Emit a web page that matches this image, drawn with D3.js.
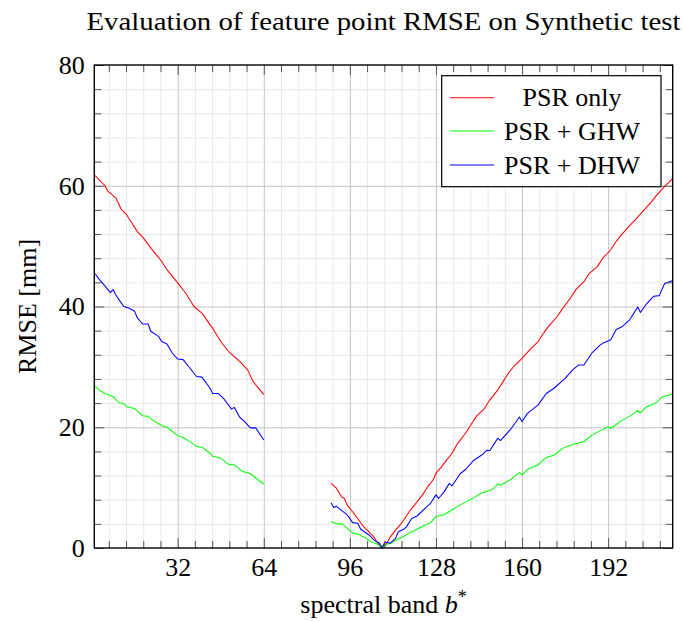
<!DOCTYPE html>
<html><head><meta charset="utf-8">
<script src="https://cdn.jsdelivr.net/npm/d3@7"></script>
<style>body{margin:0;background:#fff}svg{display:block}</style>
</head><body><svg id="c" width="684" height="621"></svg>
<script>
// ---- data (band, RMSE mm) ----
const seriesNames = ["PSR only", "PSR + GHW", "PSR + DHW"];
const seriesColors = ["#ff0000", "#00ff00", "#0000ff"];

const psrOnlyA = [[1,61.8],[5,60.0],[6,59.1],[9,58.0],[11,56.1],[13,55.2],[15,53.8],[17,52.4],[19,51.5],[22,49.7],[24,48.6],[26,47.5],[28,46.1],[32,43.9],[35,42.2],[37,40.8],[38,40.0],[41,38.9],[44,37.0],[45,36.4],[48,34.2],[51,32.5],[55,30.9],[58,29.5],[60,27.6],[64,25.4]];
const psrOnlyB = [[89,10.7],[91,9.9],[93,8.4],[94,8.2],[95,7.1],[97,6.0],[99,4.8],[101,3.6],[103,2.7],[105,1.8],[106,1.0],[108,0.0],[110,1.0],[111,1.8],[113,3.0],[115,4.0],[116,4.6],[118,6.0],[120,7.1],[123,8.8],[125,10.2],[127,11.3],[128,12.4],[130,13.4],[132,14.6],[134,15.7],[136,17.3],[139,19.0],[141,20.4],[143,21.8],[146,23.1],[148,24.5],[151,26.2],[153,27.6],[155,29.0],[157,30.1],[160,31.4],[163,32.9],[166,34.2],[168,35.6],[170,36.8],[173,38.3],[175,39.6],[178,41.4],[180,42.8],[183,44.1],[185,45.5],[188,46.6],[190,48.0],[193,49.4],[195,50.8],[197,51.9],[200,53.4],[202,54.3],[204,55.3],[206,56.3],[208,57.3],[210,58.4],[213,59.9],[216,61.2]];

const psrGhwA = [[1,26.9],[3,26.1],[6,25.4],[8,25.1],[10,24.1],[12,23.9],[13,23.4],[16,23.1],[19,21.9],[21,21.8],[23,21.1],[26,20.3],[28,20.0],[32,18.6],[34,18.3],[37,17.5],[39,16.8],[41,16.7],[44,15.7],[45,15.2],[48,14.9],[51,13.8],[53,13.8],[56,12.7],[59,12.3],[61,11.6],[64,10.6]];
const psrGhwB = [[89,4.4],[91,4.0],[93,4.0],[95,3.3],[97,2.5],[99,2.3],[102,1.6],[104,1.0],[106,0.7],[108,0.0],[110,0.7],[111,0.7],[113,1.3],[116,1.9],[118,2.5],[121,3.1],[123,3.6],[126,4.2],[128,5.2],[131,5.5],[134,6.3],[136,6.9],[139,7.6],[142,8.3],[145,9.1],[149,9.7],[151,10.6],[152,10.4],[156,11.4],[159,12.5],[160,12.1],[162,13.0],[166,13.8],[169,15.0],[172,15.4],[175,16.5],[179,17.2],[183,17.6],[186,18.7],[189,19.4],[192,20.1],[193,19.8],[197,21.1],[200,21.8],[203,22.8],[204,22.4],[206,23.3],[210,24.1],[212,25.0],[216,25.5]];

const psrDhwA = [[1,45.6],[3,44.4],[4,43.9],[7,42.3],[8,42.8],[9,41.9],[11,40.6],[12,40.0],[14,39.7],[16,39.2],[17,38.1],[19,37.1],[21,37.1],[22,35.9],[25,35.0],[26,34.2],[28,33.8],[30,32.3],[32,31.3],[34,31.2],[36,30.1],[39,28.4],[41,28.3],[44,26.5],[45,25.6],[47,25.6],[49,24.8],[52,23.0],[53,23.3],[55,21.7],[57,20.9],[59,19.9],[61,19.9],[64,17.9]];
const psrDhwB = [[89,7.5],[90,6.7],[91,6.9],[93,6.2],[95,5.5],[97,4.2],[99,4.1],[100,3.1],[103,2.2],[105,1.3],[107,0.8],[108,0.0],[109,1.0],[111,0.8],[113,1.6],[114,2.7],[116,3.1],[117,3.5],[119,4.9],[121,5.3],[124,6.6],[126,7.4],[128,8.8],[129,8.2],[131,9.3],[133,10.7],[134,10.3],[137,12.3],[139,13.0],[142,14.5],[145,15.4],[147,16.2],[148,16.1],[151,18.2],[152,17.8],[156,19.8],[159,21.7],[160,20.9],[162,22.3],[166,23.7],[169,25.6],[172,26.5],[176,28.1],[179,29.6],[181,30.3],[183,30.3],[186,32.3],[189,33.6],[190,33.9],[193,34.5],[195,36.2],[197,36.6],[200,37.8],[203,39.9],[204,39.0],[206,40.3],[209,41.7],[211,41.8],[213,43.8],[216,44.3]];

const xTickValues = [32, 64, 96, 128, 160, 192];
const yTickValues = [0, 20, 40, 60, 80];
const xDomain = [1, 216];
const yDomain = [0, 80];
const titleText = "Evaluation of feature point RMSE on Synthetic test";
const yLabelText = "RMSE [mm]";

// ---- layout ----
const L = 94.3, R = 672.7, T = 65, B = 548;
const FONT = "'Liberation Serif', 'Times New Roman', serif";
const svg = d3.select("#c");
const x = d3.scaleLinear().domain(xDomain).range([L, R]);
const y = d3.scaleLinear().domain(yDomain).range([B, T]);

const xMinor = d3.range(1, 34).map(k => +(k * 6.4).toFixed(1)).filter(v => !xTickValues.includes(v) && v <= xDomain[1]);
const yMinor = d3.range(1, 20).map(k => k * 4).filter(v => !yTickValues.includes(v));

// grids
const gGrid = svg.append("g");
function vgrid(vals, color) {
  gGrid.append("g").attr("transform", `translate(0,${B})`)
    .call(d3.axisBottom(x).tickValues(vals).tickSize(-(B - T)).tickFormat(""))
    .call(g => g.select(".domain").remove())
    .call(g => g.selectAll("line").attr("stroke", color).attr("stroke-width", 1));
}
function hgrid(vals, color) {
  gGrid.append("g").attr("transform", `translate(${L},0)`)
    .call(d3.axisLeft(y).tickValues(vals).tickSize(-(R - L)).tickFormat(""))
    .call(g => g.select(".domain").remove())
    .call(g => g.selectAll("line").attr("stroke", color).attr("stroke-width", 1));
}
vgrid(xMinor, "#e9e9e9"); hgrid(yMinor, "#e9e9e9");
vgrid(xTickValues, "#c4c4c4"); hgrid(yTickValues.filter(v => v > 0 && v < 80), "#c4c4c4");

// data lines
const line = d3.line().x(d => x(d[0])).y(d => y(d[1]));
const segs = [[psrOnlyA, psrOnlyB], [psrGhwA, psrGhwB], [psrDhwA, psrDhwB]];
const gData = svg.append("g");
segs.forEach((pair, i) => pair.forEach(seg => {
  gData.append("path").datum(seg).attr("d", line).attr("fill", "none")
    .attr("stroke", seriesColors[i]).attr("stroke-width", 1.05).attr("stroke-linejoin", "round");
}));

// ticks (inward on all four sides)
const tickColor = "#555";
function ticks(axisFn, scale, vals, len, tr) {
  svg.append("g").attr("transform", tr)
    .call(axisFn(scale).tickValues(vals).tickSize(len).tickFormat(""))
    .call(g => g.select(".domain").remove())
    .call(g => g.selectAll("line").attr("stroke", tickColor).attr("stroke-width", 1));
}
ticks(d3.axisBottom, x, xMinor, -7, `translate(0,${B})`);
ticks(d3.axisBottom, x, xTickValues, -10, `translate(0,${B})`);
ticks(d3.axisTop, x, xMinor, -7, `translate(0,${T})`);
ticks(d3.axisTop, x, xTickValues, -10, `translate(0,${T})`);
ticks(d3.axisLeft, y, yMinor, -7, `translate(${L},0)`);
ticks(d3.axisLeft, y, yTickValues, -10, `translate(${L},0)`);
ticks(d3.axisRight, y, yMinor, -7, `translate(${R},0)`);
ticks(d3.axisRight, y, yTickValues, -10, `translate(${R},0)`);

// frame
svg.append("rect").attr("x", L).attr("y", T).attr("width", R - L).attr("height", B - T)
  .attr("fill", "none").attr("stroke", "#000").attr("stroke-width", 1.4);

// tick labels
svg.append("g").attr("transform", `translate(0,${B})`)
  .call(d3.axisBottom(x).tickValues(xTickValues).tickSize(0).tickPadding(10).tickFormat(d3.format("d")))
  .call(g => g.select(".domain").remove())
  .call(g => g.selectAll("text").attr("font-family", FONT).attr("font-size", 26).attr("fill", "#000"));
svg.append("g").attr("transform", `translate(${L},0)`)
  .call(d3.axisLeft(y).tickValues(yTickValues).tickSize(0).tickPadding(9.5).tickFormat(d3.format("d")))
  .call(g => g.select(".domain").remove())
  .call(g => g.selectAll("text").attr("font-family", FONT).attr("font-size", 26).attr("fill", "#000"));

// title
svg.append("text").attr("x", (L + R) / 2).attr("y", 30).attr("text-anchor", "middle")
  .attr("font-family", FONT).attr("font-size", 25).attr("textLength", 594).attr("lengthAdjust", "spacingAndGlyphs")
  .text(titleText);

// x label
const xl = svg.append("text").attr("x", (L + R) / 2).attr("y", 613).attr("text-anchor", "middle")
  .attr("font-family", FONT).attr("font-size", 26);
xl.append("tspan").text("spectral band ");
xl.append("tspan").attr("font-style", "italic").text("b");
xl.append("tspan").attr("font-size", 18).attr("dy", -10).text("*");

// y label
svg.append("text").attr("transform", `translate(36,${(T + B) / 2}) rotate(-90)`).attr("text-anchor", "middle")
  .attr("font-family", FONT).attr("font-size", 26).text(yLabelText);

// legend
const lg = svg.append("g");
lg.append("rect").attr("x", 441.7).attr("y", 75.7).attr("width", 219.3).attr("height", 111)
  .attr("fill", "#fff").attr("stroke", "#000").attr("stroke-width", 1.2);
const rowY = [97.7, 131, 165];
const legendOrder = [0, 1, 2];
legendOrder.forEach((si, r) => {
  lg.append("line").attr("x1", 450).attr("x2", 494).attr("y1", rowY[r]).attr("y2", rowY[r])
    .attr("stroke", seriesColors[si]).attr("stroke-width", 1.05);
  lg.append("text").attr("x", 572).attr("y", rowY[r] + 8.5).attr("text-anchor", "middle")
    .attr("font-family", FONT).attr("font-size", 26).text(seriesNames[si]);
});
</script></body></html>
